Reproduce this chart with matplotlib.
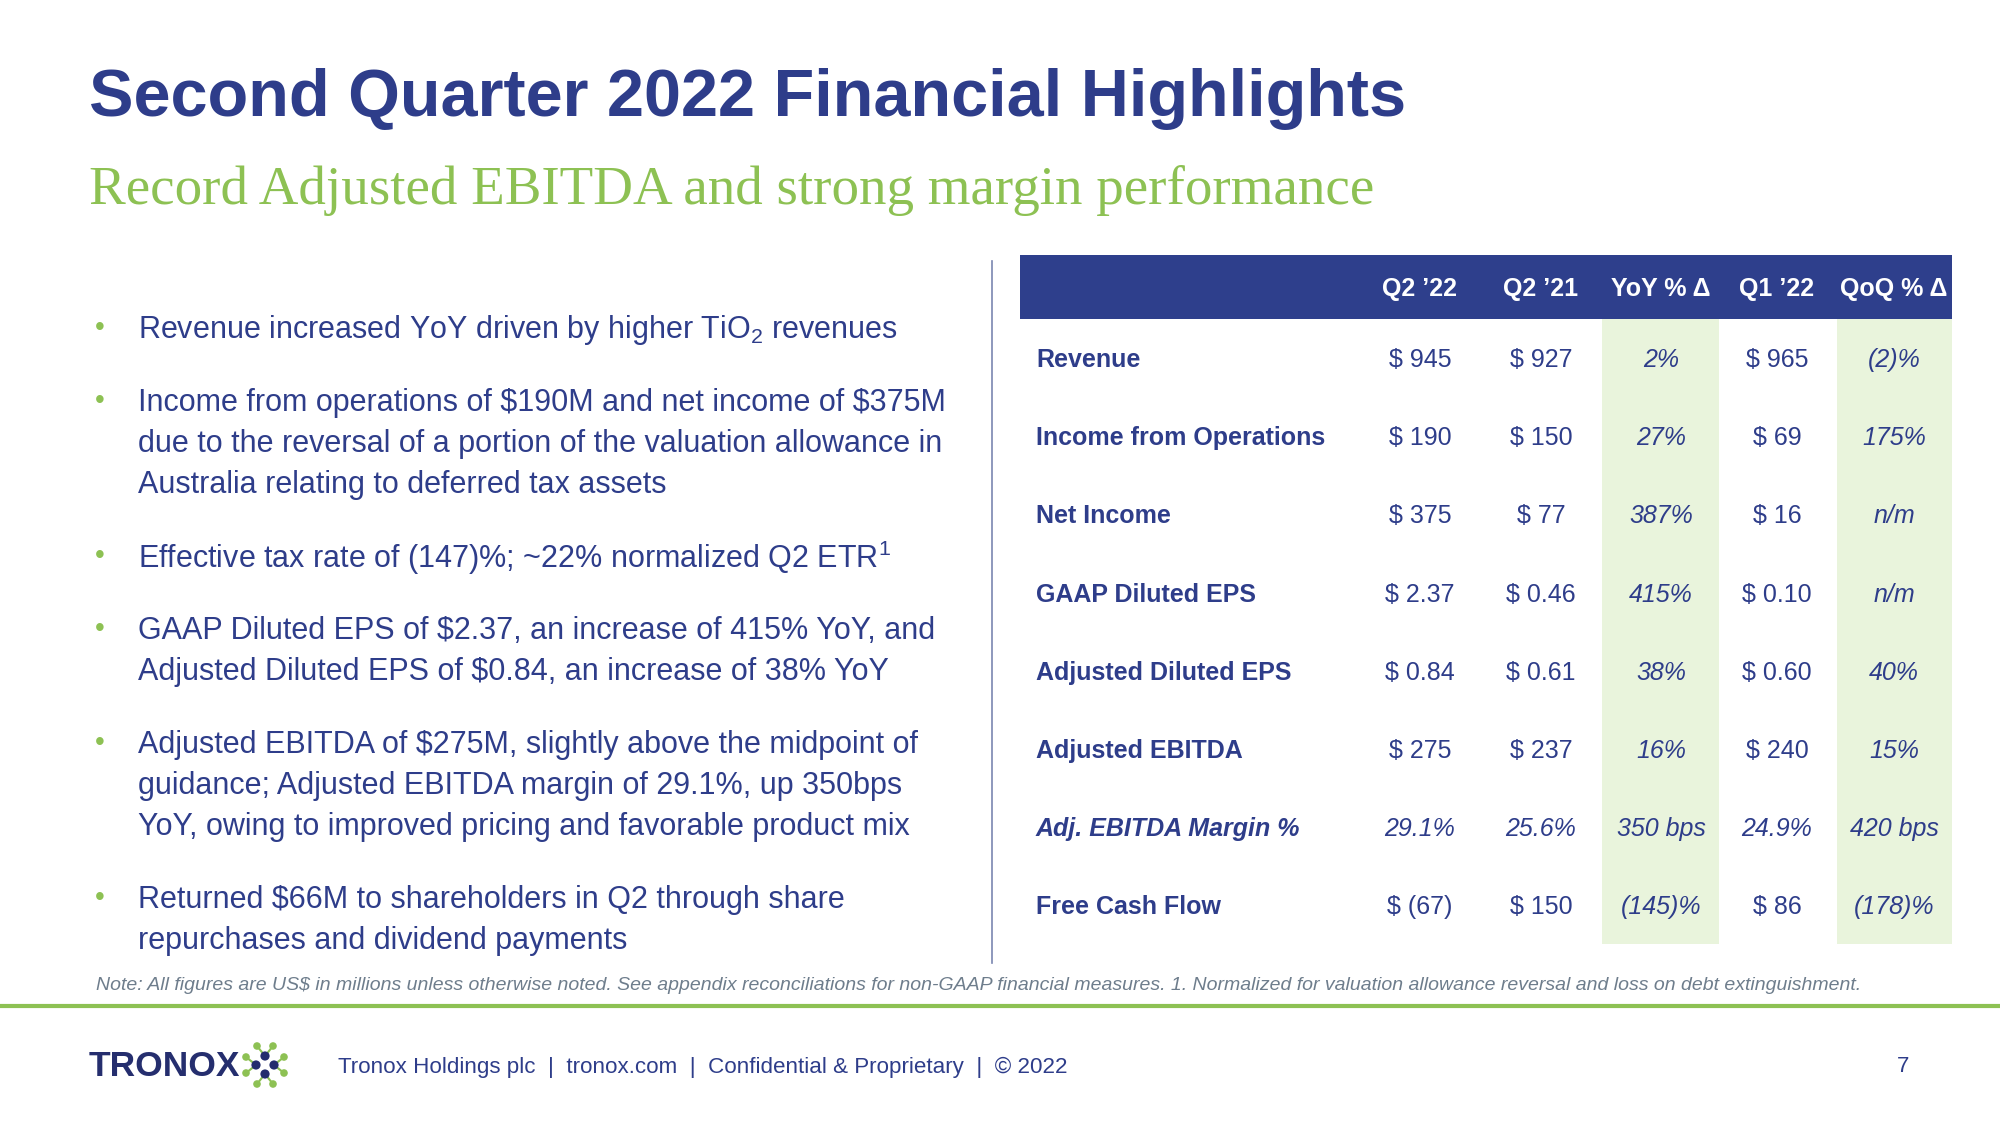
import matplotlib
matplotlib.use("Agg")
import matplotlib.pyplot as plt
from matplotlib.patches import Rectangle, Circle

plt.rcParams['font.family'] = ['Liberation Sans', 'DejaVu Sans']
plt.rcParams['mathtext.fontset'] = 'custom'
plt.rcParams['mathtext.rm'] = 'Liberation Sans'
plt.rcParams['mathtext.it'] = 'Liberation Sans:italic'
plt.rcParams['mathtext.bf'] = 'Liberation Sans:bold'
plt.rcParams['mathtext.default'] = 'regular'

NAVY = '#2E3D8A'
GREEN = '#8DC153'
LIGHT_GREEN = '#E9F4DC'
GRAY = '#6E7D8C'

# ---- data ----
title = "Second Quarter 2022 Financial Highlights"
subtitle = "Record Adjusted EBITDA and strong margin performance"
columns = ["Q2 \u201922", "Q2 \u201921", "YoY % \u0394", "Q1 \u201922", "QoQ % \u0394"]
row_labels = ["Revenue", "Income from Operations", "Net Income", "GAAP Diluted EPS",
              "Adjusted Diluted EPS", "Adjusted EBITDA", "Adj. EBITDA Margin %", "Free Cash Flow"]
q2_22 = ["$ 945", "$ 190", "$ 375", "$ 2.37", "$ 0.84", "$ 275", "29.1%", "$ (67)"]
q2_21 = ["$ 927", "$ 150", "$ 77", "$ 0.46", "$ 0.61", "$ 237", "25.6%", "$ 150"]
yoy = ["2%", "27%", "387%", "415%", "38%", "16%", "350 bps", "(145)%"]
q1_22 = ["$ 965", "$ 69", "$ 16", "$ 0.10", "$ 0.60", "$ 240", "24.9%", "$ 86"]
qoq = ["(2)%", "175%", "n/m", "n/m", "40%", "15%", "420 bps", "(178)%"]
bullets = [
    ["Revenue increased YoY driven by higher TiO$_{2}$ revenues"],
    ["Income from operations of \\$190M and net income of \\$375M",
     "due to the reversal of a portion of the valuation allowance in",
     "Australia relating to deferred tax assets"],
    ["Effective tax rate of (147)%; ~22% normalized Q2 ETR$^{1}$"],
    ["GAAP Diluted EPS of \\$2.37, an increase of 415% YoY, and",
     "Adjusted Diluted EPS of \\$0.84, an increase of 38% YoY"],
    ["Adjusted EBITDA of \\$275M, slightly above the midpoint of",
     "guidance; Adjusted EBITDA margin of 29.1%, up 350bps",
     "YoY, owing to improved pricing and favorable product mix"],
    ["Returned \\$66M to shareholders in Q2 through share",
     "repurchases and dividend payments"],
]
note = ("Note: All figures are US$ in millions unless otherwise noted. See appendix reconciliations "
        "for non-GAAP financial measures. 1. Normalized for valuation allowance reversal and loss on debt extinguishment.")
footer = "Tronox Holdings plc  |  tronox.com  |  Confidential & Proprietary  |  \u00a9 2022"
page = "7"

# ---- figure ----
fig = plt.figure(figsize=(20, 11.25), dpi=100)
ax = fig.add_axes([0, 0, 1, 1])
ax.set_xlim(0, 2000)
ax.set_ylim(1125, 0)
ax.axis('off')

ax.text(89, 99, title, fontsize=48, fontweight='bold', color=NAVY, va='center', ha='left')
ax.text(89, 191, subtitle, fontsize=39.6, color=GREEN, va='center', ha='left',
        family='Liberation Serif')

# bullets
y = 330
line_h = 41
gap = 32
for b in bullets:
    ax.text(95, y - 2, "\u2022", fontsize=20, color=GREEN, va='center', ha='left')
    for ln in b:
        ax.text(138, y, ln, fontsize=22, color=NAVY, va='center', ha='left')
        y += line_h
    y += gap

# separator
ax.plot([992, 992], [261, 963], color='#7A86B0', lw=1.2)

# table
col_x = [1420, 1541, 1661, 1777, 1894]
green_cols = [(1602, 1719), (1837, 1952)]
row_y0 = 360
row_dy = 78.2
tbl_top, head_bot, tbl_bot = 255, 319, 944
for x0, x1 in green_cols:
    ax.add_patch(Rectangle((x0, head_bot), x1 - x0, tbl_bot - head_bot, color=LIGHT_GREEN, lw=0))
ax.add_patch(Rectangle((1020, tbl_top), 1952 - 1020, head_bot - tbl_top, color='#2E3F8C', lw=0))
for c, x in zip(columns, col_x):
    ax.text(x, 289, c, fontsize=18, fontweight='bold', color='white', va='center', ha='center')

cols = [q2_22, q2_21, yoy, q1_22, qoq]
for i, lab in enumerate(row_labels):
    ry = row_y0 + i * row_dy
    margin_row = lab.startswith("Adj.")
    ax.text(1036, ry, lab, fontsize=18, fontweight='bold', color=NAVY, va='center', ha='left',
            style='italic' if margin_row else 'normal')
    for j, (vals, x) in enumerate(zip(cols, col_x)):
        ital = margin_row or j in (2, 4)
        ax.text(x, ry, vals[i].replace('$', '\\$'), fontsize=18, color=NAVY, va='center',
                ha='center', style='italic' if ital else 'normal')

# note
ax.text(96, 985, note, fontsize=14.0, style='italic', color=GRAY, va='center', ha='left')
ax.plot([0, 2000], [1006, 1006], color=GREEN, lw=3)

# footer logo
LOGO_NAVY = '#252E6E'
ax.text(89, 1067, "TRONOX", fontsize=25.5, fontweight='bold', color=LOGO_NAVY, va='center', ha='left')
cx, cy = 265, 1065
navy_off = [(0, -9), (0, 9), (-9, 0), (9, 0)]
green_off = [(-8, -19), (8, -19), (-8, 19), (8, 19), (-19, -8), (-19, 8), (19, -8), (19, 8)]
for gx, gy in green_off:
    # connect each green dot to its nearest navy dot
    nx, ny = min(navy_off, key=lambda p: (p[0] - gx) ** 2 + (p[1] - gy) ** 2)
    ax.plot([cx + nx, cx + gx], [cy + ny, cy + gy], color=GREEN, lw=1.5, zorder=2)
    ax.add_patch(Circle((cx + gx, cy + gy), 3.8, color=GREEN, lw=0, zorder=3))
for nx, ny in navy_off:
    ax.add_patch(Circle((cx + nx, cy + ny), 4.6, color=LOGO_NAVY, lw=0, zorder=4))

ax.text(338, 1067, footer, fontsize=16.1, color=NAVY, va='center', ha='left')
ax.text(1903, 1067, page, fontsize=16.1, color=NAVY, va='center', ha='center')

fig.savefig("out.png", dpi=100)
